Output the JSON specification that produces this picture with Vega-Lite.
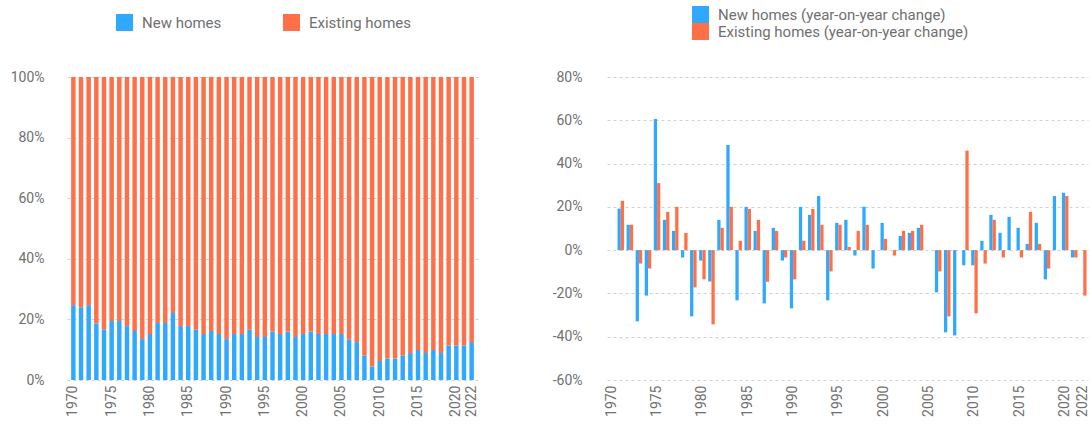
{
  "$schema": "https://vega.github.io/schema/vega-lite/v6.json",
  "padding": {"left": 0, "top": 6, "right": 0, "bottom": 0},
  "bounds": "flush",
  "spacing": 129,
  "config": {
    "font": "Roboto",
    "view": {"stroke": null},
    "axis": {"domain": false, "ticks": false, "labelColor": "#707070", "labelFont": "Roboto", "labelFontSize": 14, "gridColor": "#d0d0d0", "gridDash": [3, 3], "gridWidth": 1, "title": null},
    "axisX": {"grid": false, "labelAngle": -90, "labelPadding": 5},
    "legend": {"labelFont": "Roboto", "labelFontSize": 15, "labelColor": "#707070", "symbolType": "square", "symbolSize": 289, "symbolStrokeWidth": 0, "symbolOpacity": 1, "labelOffset": 9, "padding": 0, "labelLimit": 0, "orient": "none"}
  },
  "datasets": {
    "share": [
      {"year": 1970, "New homes": 24.7, "Existing homes": 75.3},
      {"year": 1971, "New homes": 24.0, "Existing homes": 76.0},
      {"year": 1972, "New homes": 24.7, "Existing homes": 75.3},
      {"year": 1973, "New homes": 18.7, "Existing homes": 81.3},
      {"year": 1974, "New homes": 16.7, "Existing homes": 83.3},
      {"year": 1975, "New homes": 19.5, "Existing homes": 80.5},
      {"year": 1976, "New homes": 19.5, "Existing homes": 80.5},
      {"year": 1977, "New homes": 17.8, "Existing homes": 82.2},
      {"year": 1978, "New homes": 16.2, "Existing homes": 83.8},
      {"year": 1979, "New homes": 13.5, "Existing homes": 86.5},
      {"year": 1980, "New homes": 15.2, "Existing homes": 84.8},
      {"year": 1981, "New homes": 18.8, "Existing homes": 81.2},
      {"year": 1982, "New homes": 18.8, "Existing homes": 81.2},
      {"year": 1983, "New homes": 22.1, "Existing homes": 77.9},
      {"year": 1984, "New homes": 17.8, "Existing homes": 82.2},
      {"year": 1985, "New homes": 17.8, "Existing homes": 82.2},
      {"year": 1986, "New homes": 16.7, "Existing homes": 83.3},
      {"year": 1987, "New homes": 15.2, "Existing homes": 84.8},
      {"year": 1988, "New homes": 16.2, "Existing homes": 83.8},
      {"year": 1989, "New homes": 15.2, "Existing homes": 84.8},
      {"year": 1990, "New homes": 13.5, "Existing homes": 86.5},
      {"year": 1991, "New homes": 15.2, "Existing homes": 84.8},
      {"year": 1992, "New homes": 15.2, "Existing homes": 84.8},
      {"year": 1993, "New homes": 16.7, "Existing homes": 83.3},
      {"year": 1994, "New homes": 14.2, "Existing homes": 85.8},
      {"year": 1995, "New homes": 14.2, "Existing homes": 85.8},
      {"year": 1996, "New homes": 16.0, "Existing homes": 84.0},
      {"year": 1997, "New homes": 15.2, "Existing homes": 84.8},
      {"year": 1998, "New homes": 16.0, "Existing homes": 84.0},
      {"year": 1999, "New homes": 14.2, "Existing homes": 85.8},
      {"year": 2000, "New homes": 15.2, "Existing homes": 84.8},
      {"year": 2001, "New homes": 16.0, "Existing homes": 84.0},
      {"year": 2002, "New homes": 15.2, "Existing homes": 84.8},
      {"year": 2003, "New homes": 15.2, "Existing homes": 84.8},
      {"year": 2004, "New homes": 15.2, "Existing homes": 84.8},
      {"year": 2005, "New homes": 15.2, "Existing homes": 84.8},
      {"year": 2006, "New homes": 13.4, "Existing homes": 86.6},
      {"year": 2007, "New homes": 12.5, "Existing homes": 87.5},
      {"year": 2008, "New homes": 8.1, "Existing homes": 91.9},
      {"year": 2009, "New homes": 4.5, "Existing homes": 95.5},
      {"year": 2010, "New homes": 6.3, "Existing homes": 93.7},
      {"year": 2011, "New homes": 7.1, "Existing homes": 92.9},
      {"year": 2012, "New homes": 7.1, "Existing homes": 92.9},
      {"year": 2013, "New homes": 8.1, "Existing homes": 91.9},
      {"year": 2014, "New homes": 8.9, "Existing homes": 91.1},
      {"year": 2015, "New homes": 9.9, "Existing homes": 90.1},
      {"year": 2016, "New homes": 8.9, "Existing homes": 91.1},
      {"year": 2017, "New homes": 9.9, "Existing homes": 90.1},
      {"year": 2018, "New homes": 8.9, "Existing homes": 91.1},
      {"year": 2019, "New homes": 11.4, "Existing homes": 88.6},
      {"year": 2020, "New homes": 11.4, "Existing homes": 88.6},
      {"year": 2021, "New homes": 11.4, "Existing homes": 88.6},
      {"year": 2022, "New homes": 12.5, "Existing homes": 87.5}
    ],
    "yoy": [
      {"year": 1971, "new": 19.2, "existing": 22.8},
      {"year": 1972, "new": 11.7, "existing": 11.7},
      {"year": 1973, "new": -32.9, "existing": -6.2},
      {"year": 1974, "new": -21.0, "existing": -8.5},
      {"year": 1975, "new": 60.6, "existing": 31.0},
      {"year": 1976, "new": 14.0, "existing": 17.7},
      {"year": 1977, "new": 8.9, "existing": 20.0},
      {"year": 1978, "new": -3.4, "existing": 8.0},
      {"year": 1979, "new": -30.6, "existing": -17.2},
      {"year": 1980, "new": -4.8, "existing": -13.5},
      {"year": 1981, "new": -14.5, "existing": -34.3},
      {"year": 1982, "new": 14.0, "existing": 10.3},
      {"year": 1983, "new": 48.6, "existing": 20.0},
      {"year": 1984, "new": -23.2, "existing": 4.3},
      {"year": 1985, "new": 20.0, "existing": 19.0},
      {"year": 1986, "new": 8.9, "existing": 14.0},
      {"year": 1987, "new": -24.6, "existing": -14.6},
      {"year": 1988, "new": 10.3, "existing": 8.9},
      {"year": 1989, "new": -4.8, "existing": -3.4},
      {"year": 1990, "new": -26.9, "existing": -13.5},
      {"year": 1991, "new": 20.0, "existing": 4.3},
      {"year": 1992, "new": 16.3, "existing": 19.0},
      {"year": 1993, "new": 25.0, "existing": 11.7},
      {"year": 1994, "new": -23.2, "existing": -9.8},
      {"year": 1995, "new": 12.6, "existing": 11.7},
      {"year": 1996, "new": 14.0, "existing": 1.5},
      {"year": 1997, "new": -2.5, "existing": 8.9},
      {"year": 1998, "new": 20.0, "existing": 11.7},
      {"year": 1999, "new": -8.5, "existing": 0},
      {"year": 2000, "new": 12.6, "existing": 5.2},
      {"year": 2001, "new": 0, "existing": -2.5},
      {"year": 2002, "new": 6.6, "existing": 8.9},
      {"year": 2003, "new": 8.0, "existing": 8.9},
      {"year": 2004, "new": 10.3, "existing": 11.7},
      {"year": 2005, "new": 0, "existing": 0},
      {"year": 2006, "new": -19.5, "existing": -9.8},
      {"year": 2007, "new": -38.0, "existing": -30.6},
      {"year": 2008, "new": -39.4, "existing": 0},
      {"year": 2009, "new": -7.0, "existing": 46.0},
      {"year": 2010, "new": -7.0, "existing": -29.2},
      {"year": 2011, "new": 4.3, "existing": -6.2},
      {"year": 2012, "new": 16.3, "existing": 14.0},
      {"year": 2013, "new": 8.0, "existing": -3.4},
      {"year": 2014, "new": 15.4, "existing": 0},
      {"year": 2015, "new": 10.3, "existing": -3.4},
      {"year": 2016, "new": 2.9, "existing": 17.7},
      {"year": 2017, "new": 12.6, "existing": 2.9},
      {"year": 2018, "new": -13.5, "existing": -8.5},
      {"year": 2019, "new": 25.0, "existing": 0},
      {"year": 2020, "new": 26.5, "existing": 25.0},
      {"year": 2021, "new": -3.4, "existing": -3.4},
      {"year": 2022, "new": 0, "existing": -21.0}
    ]
  },
  "hconcat": [
    {
      "data": {"name": "share"},
      "transform": [{"fold": ["New homes", "Existing homes"], "as": ["type", "share"]}],
      "width": 411,
      "height": 303,
      "mark": {"type": "bar"},
      "encoding": {
        "x": {
          "field": "year", "type": "ordinal",
          "scale": {"domain": [1970,1971,1972,1973,1974,1975,1976,1977,1978,1979,1980,1981,1982,1983,1984,1985,1986,1987,1988,1989,1990,1991,1992,1993,1994,1995,1996,1997,1998,1999,2000,2001,2002,2003,2004,2005,2006,2007,2008,2009,2010,2011,2012,2013,2014,2015,2016,2017,2018,2019,2020,2021,2022], "paddingInner": 0.42, "paddingOuter": 0.54},
          "axis": {"values": [1970,1975,1980,1985,1990,1995,2000,2005,2010,2015,2020,2022]}
        },
        "y": {
          "field": "share", "type": "quantitative", "stack": "zero",
          "scale": {"domain": [0, 100], "nice": false},
          "axis": {"values": [0,20,40,60,80,100], "labelExpr": "datum.value + '%'", "grid": true, "labelPadding": 23, "minExtent": 67, "maxExtent": 67}
        },
        "color": {
          "field": "type", "type": "nominal",
          "scale": {"domain": ["New homes", "Existing homes"], "range": ["#2ea9ff", "#ff7049"]},
          "legend": {"title": null, "direction": "horizontal", "legendX": 49, "legendY": -63, "columnPadding": 61}
        },
        "order": {"field": "type", "sort": "descending"}
      }
    },
    {
      "data": {"name": "yoy"},
      "transform": [{"fold": ["new", "existing"], "as": ["key", "value"]}, {"lookup": "key", "from": {"data": {"values": [{"key": "new", "type": "New homes (year-on-year change)"}, {"key": "existing", "type": "Existing homes (year-on-year change)"}]}, "key": "key", "fields": ["type"]}}],
      "width": 481,
      "height": 303,
      "mark": {"type": "bar"},
      "encoding": {
        "x": {
          "field": "year", "type": "ordinal",
          "scale": {"domain": [1970,1971,1972,1973,1974,1975,1976,1977,1978,1979,1980,1981,1982,1983,1984,1985,1986,1987,1988,1989,1990,1991,1992,1993,1994,1995,1996,1997,1998,1999,2000,2001,2002,2003,2004,2005,2006,2007,2008,2009,2010,2011,2012,2013,2014,2015,2016,2017,2018,2019,2020,2021,2022], "paddingInner": 0.28, "paddingOuter": 0.16},
          "axis": {"values": [1970,1975,1980,1985,1990,1995,2000,2005,2010,2015,2020,2022]}
        },
        "xOffset": {"field": "type", "type": "nominal", "scale": {"domain": ["New homes (year-on-year change)", "Existing homes (year-on-year change)"]}},
        "y": {
          "field": "value", "type": "quantitative",
          "scale": {"domain": [-60, 80], "nice": false},
          "axis": {"values": [-60,-40,-20,0,20,40,60,80], "labelExpr": "datum.value + '%'", "grid": true, "labelPadding": 25, "minExtent": 70, "maxExtent": 70}
        },
        "color": {
          "field": "type", "type": "nominal",
          "scale": {"domain": ["New homes (year-on-year change)", "Existing homes (year-on-year change)"], "range": ["#2ea9ff", "#ff7049"]},
          "legend": {"title": null, "direction": "vertical", "legendX": 85, "legendY": -71, "rowPadding": 0}
        }
      }
    }
  ],
  "resolve": {"scale": {"color": "independent", "x": "independent", "y": "independent"}, "legend": {"color": "independent"}}
}
